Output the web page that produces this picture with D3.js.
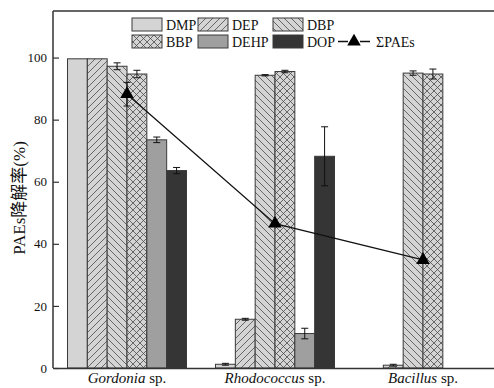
<!DOCTYPE html>
<html>
<head>
<meta charset="utf-8">
<script src="https://cdn.jsdelivr.net/npm/d3@7"></script>
<style>
  html, body { margin: 0; padding: 0; background: #fff; }
  svg { display: block; }
  text { font-family: "Liberation Serif", "Times New Roman", "Noto Sans CJK SC", serif; fill: #111; }
</style>
</head>
<body>
<svg id="chart" width="494" height="388"></svg>
<script>
// Strains (x groups) and phthalate esters (bars within each group)
const categories = ["Gordonia", "Rhodococcus", "Bacillus"];
const seriesNames = ["DMP", "DEP", "DBP", "BBP", "DEHP", "DOP"];

// Degradation rate (%) per strain, one array per compound
const dmp  = [99.6, 1.2, 0.0];
const dep  = [99.6, 15.7, 0.9];
const dbp  = [97.2, 94.3, 95.0];
const bbp  = [94.7, 95.5, 94.7];
const dehp = [73.5, 11.1, 0.0];
const dop  = [63.6, 68.2, 0.0];

// Standard deviations
const dmpErr  = [0, 0.3, 0];
const depErr  = [0, 0.3, 0.3];
const dbpErr  = [1.1, 0.2, 0.7];
const bbpErr  = [1.2, 0.4, 1.6];
const dehpErr = [0.9, 1.7, 0];
const dopErr  = [1.0, 9.5, 0];

// Total PAEs degradation rate (%)
const totalPAEs = [88.2, 46.5, 34.8];
const totalErr  = [3.8, 0, 0];

const yTicks = [0, 20, 40, 60, 80, 100];

const valuesBySeries = { DMP: dmp, DEP: dep, DBP: dbp, BBP: bbp, DEHP: dehp, DOP: dop };
const errBySeries = { DMP: dmpErr, DEP: depErr, DBP: dbpErr, BBP: bbpErr, DEHP: dehpErr, DOP: dopErr };

const fills = {
  DMP: "#d4d4d4",
  DEP: "url(#hatchFwd)",
  DBP: "url(#hatchBack)",
  BBP: "url(#hatchCross)",
  DEHP: "#9f9f9f",
  DOP: "#353535"
};

const svg = d3.select("#chart");
const plotL = 53, plotR = 497, plotT = 11, plotB = 368;

// Hatch patterns
const defs = svg.append("defs");
function pattern(id, d) {
  const p = defs.append("pattern").attr("id", id)
    .attr("patternUnits", "userSpaceOnUse").attr("width", 7).attr("height", 7);
  p.append("rect").attr("width", 7).attr("height", 7).attr("fill", "#d4d4d4");
  p.append("path").attr("d", d).attr("stroke", "#4a4a4a").attr("stroke-width", 0.8).attr("fill", "none");
}
pattern("hatchFwd", "M0,7L7,0M-1,1L1,-1M6,8L8,6");
pattern("hatchBack", "M0,0L7,7M-1,6L1,8M6,-1L8,1");
pattern("hatchCross", "M0,7L7,0M-1,1L1,-1M6,8L8,6M0,0L7,7M-1,6L1,8M6,-1L8,1");

const x0 = d3.scaleBand().domain(categories).range([plotL, plotR]).paddingInner(0).paddingOuter(0);
const groupW = 119;
const x1 = d3.scaleBand().domain(seriesNames)
  .range([(x0.bandwidth() - groupW) / 2, (x0.bandwidth() + groupW) / 2]);
const y = d3.scaleLinear().domain([0, 115]).range([plotB, plotT]);

// Bars
const barData = [];
categories.forEach((c, i) => {
  seriesNames.forEach(s => {
    barData.push({ cat: c, s, v: valuesBySeries[s][i], e: errBySeries[s][i] });
  });
});

svg.append("g").selectAll("rect").data(barData).join("rect")
  .attr("x", d => x0(d.cat) + x1(d.s))
  .attr("y", d => y(d.v))
  .attr("width", x1.bandwidth())
  .attr("height", d => y(0) - y(d.v))
  .attr("fill", d => fills[d.s])
  .attr("stroke", d => d.v > 0 ? "#3a3a3a" : "none")
  .attr("stroke-width", 1);

// Error bars
const eg = svg.append("g").attr("stroke", "#111").attr("stroke-width", 1);
barData.filter(d => d.e > 0).forEach(d => {
  const cx = x0(d.cat) + x1(d.s) + x1.bandwidth() / 2;
  eg.append("line").attr("x1", cx).attr("x2", cx).attr("y1", y(d.v + d.e)).attr("y2", y(d.v - d.e));
  [d.v + d.e, d.v - d.e].forEach(v => {
    eg.append("line").attr("x1", cx - 3.5).attr("x2", cx + 3.5).attr("y1", y(v)).attr("y2", y(v));
  });
});

// Frame and axes
svg.append("line").attr("x1", plotL).attr("x2", plotR).attr("y1", plotT).attr("y2", plotT)
  .attr("stroke", "#333").attr("stroke-width", 1.3);

const yAxis = d3.axisLeft(y).tickValues(yTicks).tickSize(-6).tickPadding(6);
const yg = svg.append("g").attr("transform", `translate(${plotL},0)`).call(yAxis);
yg.select(".domain").attr("stroke", "#333").attr("stroke-width", 1.5).attr("d", `M0,${plotT}V${plotB}`);
yg.selectAll(".tick line").attr("stroke", "#333").attr("stroke-width", 1.2);
yg.selectAll(".tick text").attr("font-size", 13).attr("fill", "#111")
  .style("font-family", "'Liberation Serif', serif");

const xAxis = d3.axisBottom(x0).tickSize(0).tickPadding(6).tickFormat(() => "");
const xg = svg.append("g").attr("transform", `translate(0,${plotB})`).call(xAxis);
xg.select(".domain").attr("stroke", "#333").attr("stroke-width", 1.6);

// Category labels: italic genus + "sp."
categories.forEach(c => {
  const t = svg.append("text")
    .attr("x", x0(c) + x0.bandwidth() / 2)
    .attr("y", 383)
    .attr("text-anchor", "middle")
    .attr("font-size", 15);
  t.append("tspan").attr("font-style", "italic").text(c);
  t.append("tspan").text(" sp.");
});

// Y axis title
svg.append("text")
  .attr("transform", "translate(25,198) rotate(-90)")
  .attr("text-anchor", "middle")
  .attr("font-size", 17)
  .text("PAEs降解率(%)");

// Total PAEs line with triangle markers
const linePts = categories.map((c, i) => [x0(c) + x0.bandwidth() / 2, y(totalPAEs[i])]);
svg.append("path").attr("d", d3.line()(linePts))
  .attr("fill", "none").attr("stroke", "#111").attr("stroke-width", 1.3);

const tri = d3.symbol().type(d3.symbolTriangle).size(80);
categories.forEach((c, i) => {
  const cx = x0(c) + x0.bandwidth() / 2;
  if (totalErr[i] > 0) {
    const g = svg.append("g").attr("stroke", "#111").attr("stroke-width", 1);
    g.append("line").attr("x1", cx).attr("x2", cx)
      .attr("y1", y(totalPAEs[i] + totalErr[i])).attr("y2", y(totalPAEs[i] - totalErr[i]));
    [totalPAEs[i] + totalErr[i], totalPAEs[i] - totalErr[i]].forEach(v => {
      g.append("line").attr("x1", cx - 3.5).attr("x2", cx + 3.5).attr("y1", y(v)).attr("y2", y(v));
    });
  }
  svg.append("path").attr("d", tri)
    .attr("transform", `translate(${cx},${y(totalPAEs[i])})`)
    .attr("fill", "#000");
});

// Legend
const legendItems = [
  { name: "DMP", col: 0, row: 0 }, { name: "DEP", col: 1, row: 0 }, { name: "DBP", col: 2, row: 0 },
  { name: "BBP", col: 0, row: 1 }, { name: "DEHP", col: 1, row: 1 }, { name: "DOP", col: 2, row: 1 }
];
const colX = [132, 198, 273];
const rowY = [18, 35];
const lg = svg.append("g");
legendItems.forEach(it => {
  lg.append("rect").attr("x", colX[it.col]).attr("y", rowY[it.row])
    .attr("width", 30).attr("height", 13)
    .attr("fill", fills[it.name]).attr("stroke", "#3a3a3a").attr("stroke-width", 1);
  lg.append("text").attr("x", colX[it.col] + 34).attr("y", rowY[it.row] + 11.5)
    .attr("font-size", 14).text(it.name);
});
lg.append("line").attr("x1", 338).attr("x2", 348).attr("y1", 41.5).attr("y2", 41.5)
  .attr("stroke", "#111").attr("stroke-width", 1.5);
lg.append("line").attr("x1", 360).attr("x2", 370).attr("y1", 41.5).attr("y2", 41.5)
  .attr("stroke", "#111").attr("stroke-width", 1.5);
lg.append("path").attr("d", tri).attr("transform", "translate(354,41.5)").attr("fill", "#000");
lg.append("text").attr("x", 376).attr("y", 46.5).attr("font-size", 14).text("ΣPAEs");
</script>
</body>
</html>
